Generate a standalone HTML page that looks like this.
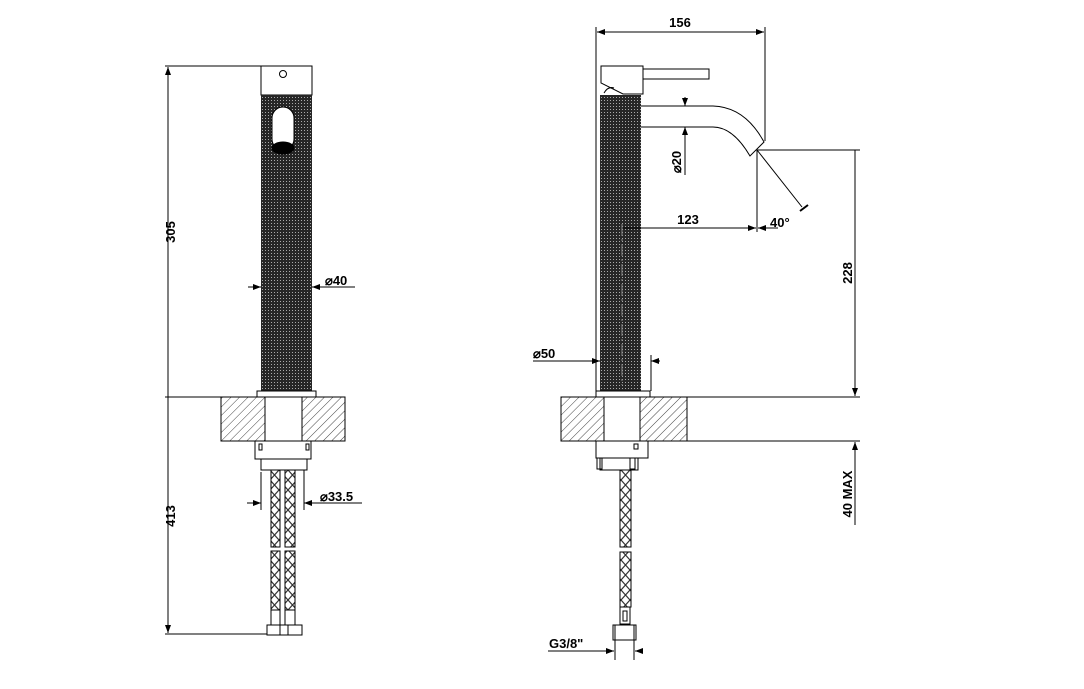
<!DOCTYPE html>
<html><head><meta charset="utf-8"><style>
html,body{margin:0;padding:0;background:#fff;}
svg{display:block}
text{font-family:"Liberation Sans",sans-serif;font-weight:bold;font-size:13px;fill:#000}
</style></head><body>
<svg width="1084" height="689" viewBox="0 0 1084 689" xmlns="http://www.w3.org/2000/svg">
<defs>
<pattern id="knurl" width="3" height="3" patternUnits="userSpaceOnUse">
<rect width="3" height="3" fill="#262626"/><rect x="1" y="1" width="1" height="1" fill="#aaa"/>
</pattern>
<pattern id="hatch" width="6" height="6" patternUnits="userSpaceOnUse" patternTransform="rotate(45)">
<rect width="6" height="6" fill="#fff"/><line x1="0" y1="0" x2="0" y2="6" stroke="#444" stroke-width="1"/>
</pattern>
<pattern id="braid" width="9" height="10" patternUnits="userSpaceOnUse">
<rect width="9" height="10" fill="#fff"/><path d="M0 0 L9 10 M9 0 L0 10" stroke="#333" stroke-width="1.2"/>
</pattern>
<marker id="ar" markerWidth="8" markerHeight="6" refX="8" refY="3" orient="auto" markerUnits="userSpaceOnUse"><path d="M0 0 L8 3 L0 6 z" fill="#000"/></marker>
</defs>
<g stroke="#000" stroke-width="1" fill="none">
<!-- LEFT FIGURE -->
<rect x="261" y="66" width="51" height="29" fill="#fff"/>
<circle cx="283" cy="74" r="3.5"/>
<rect x="261" y="95" width="51" height="296" fill="url(#knurl)" stroke="none"/>
<rect x="272" y="107" width="22" height="43" rx="11" fill="#fff"/>
<ellipse cx="283" cy="148" rx="11" ry="6" fill="#000"/>
<rect x="257" y="391" width="59" height="6" fill="#fff"/>
<rect x="221" y="397" width="124" height="44" fill="url(#hatch)"/>
<rect x="265" y="397" width="37" height="44" fill="#fff"/>
<rect x="255" y="441" width="56" height="18" fill="#fff"/>
<rect x="261" y="459" width="46" height="11" fill="#fff"/>
<rect x="259" y="444" width="3" height="6"/><rect x="306" y="444" width="3" height="6"/>
<rect x="271" y="470" width="9" height="77" fill="url(#braid)"/>
<rect x="285" y="470" width="10" height="77" fill="url(#braid)"/>
<rect x="271" y="551" width="9" height="59" fill="url(#braid)"/>
<rect x="285" y="551" width="10" height="59" fill="url(#braid)"/>
<rect x="271" y="610" width="9" height="15"/><rect x="285" y="610" width="10" height="15"/>
<rect x="267" y="625" width="35" height="10" fill="#fff"/>
<line x1="280" y1="625" x2="280" y2="635"/><line x1="288" y1="625" x2="288" y2="635"/>
<!-- left dims -->
<line x1="165" y1="66" x2="261" y2="66"/>
<line x1="165" y1="397" x2="221" y2="397"/>
<line x1="165" y1="634" x2="267" y2="634"/>
<line x1="168" y1="397" x2="168" y2="67" marker-end="url(#ar)"/>
<line x1="168" y1="397" x2="168" y2="633" marker-end="url(#ar)"/>
<line x1="248" y1="287" x2="261" y2="287" marker-end="url(#ar)"/>
<line x1="355" y1="287" x2="312" y2="287" marker-end="url(#ar)"/>
<line x1="247" y1="503" x2="261" y2="503" marker-end="url(#ar)"/>
<line x1="362" y1="503" x2="304" y2="503" marker-end="url(#ar)"/>
<line x1="261" y1="472" x2="261" y2="510"/><line x1="304" y1="470" x2="304" y2="510"/>
<!-- RIGHT FIGURE -->
<path d="M601 66 H643 V94 H623 L601 83 Z" fill="#fff"/>
<path d="M604 93 Q608 86 614 88"/>
<rect x="643" y="69" width="66" height="10" fill="#fff"/>
<rect x="600" y="95" width="41" height="296" fill="url(#knurl)" stroke="none"/>
<path d="M641 106 H713 Q745 107 764 142 L750 156 Q733 127 713 127 H641" fill="#fff"/>
<rect x="596" y="391" width="54" height="6" fill="#fff"/>
<rect x="561" y="397" width="126" height="44" fill="url(#hatch)"/>
<rect x="604" y="397" width="36" height="44" fill="#fff"/>
<rect x="596" y="441" width="52" height="17" fill="#fff"/>
<rect x="634" y="444" width="4" height="5"/>
<rect x="600" y="458" width="38" height="12" fill="#fff"/>
<rect x="597" y="458" width="5" height="11"/><rect x="630" y="458" width="5" height="11"/>
<rect x="620" y="470" width="11" height="77" fill="url(#braid)"/>
<rect x="620" y="552" width="11" height="55" fill="url(#braid)"/>
<rect x="620" y="607" width="10" height="17"/><rect x="623" y="611" width="4" height="10"/>
<path d="M613 625 H636 V640 H613 Z M615 625 V640 M634 625 V640" fill="#fff"/>
<!-- right dims -->
<line x1="596" y1="27" x2="596" y2="391"/>
<line x1="765" y1="27" x2="765" y2="141"/>
<line x1="680" y1="32" x2="597" y2="32" marker-end="url(#ar)"/>
<line x1="680" y1="32" x2="764" y2="32" marker-end="url(#ar)"/>
<line x1="685" y1="97" x2="685" y2="106" marker-end="url(#ar)"/>
<line x1="685" y1="175" x2="685" y2="127" marker-end="url(#ar)"/>
<line x1="757" y1="150" x2="802" y2="207"/>
<line x1="800" y1="211" x2="808" y2="205" stroke-width="2"/>
<line x1="757" y1="150" x2="757" y2="232"/>
<line x1="622" y1="228" x2="756" y2="228" marker-end="url(#ar)"/>
<line x1="778" y1="228" x2="758" y2="228" marker-end="url(#ar)"/>
<line x1="622" y1="224" x2="622" y2="385" stroke="#888" stroke-dasharray="12 3 2 3"/>
<line x1="757" y1="150" x2="860" y2="150"/>
<line x1="855" y1="150" x2="855" y2="396" marker-end="url(#ar)"/>
<line x1="687" y1="397" x2="860" y2="397"/>
<line x1="687" y1="441" x2="860" y2="441"/>
<line x1="855" y1="525" x2="855" y2="442" marker-end="url(#ar)"/>
<line x1="533" y1="361" x2="600" y2="361" marker-end="url(#ar)"/>
<line x1="660" y1="361" x2="651" y2="361" marker-end="url(#ar)"/>
<line x1="651" y1="355" x2="651" y2="391"/>
<line x1="548" y1="651" x2="614" y2="651" marker-end="url(#ar)"/>
<line x1="642" y1="651" x2="635" y2="651" marker-end="url(#ar)"/>
<line x1="615" y1="640" x2="615" y2="660"/><line x1="634" y1="640" x2="634" y2="660"/>
</g>
<text x="175" y="232" transform="rotate(-90 175 232)" text-anchor="middle">305</text>
<text x="175" y="516" transform="rotate(-90 175 516)" text-anchor="middle">413</text>
<text x="325" y="285">⌀40</text>
<text x="320" y="501">⌀33.5</text>
<text x="680" y="27" text-anchor="middle">156</text>
<text x="681" y="162" transform="rotate(-90 681 162)" text-anchor="middle">⌀20</text>
<text x="688" y="224" text-anchor="middle">123</text>
<text x="770" y="227">40°</text>
<text x="852" y="273" transform="rotate(-90 852 273)" text-anchor="middle">228</text>
<text x="852" y="494" transform="rotate(-90 852 494)" text-anchor="middle">40  MAX</text>
<text x="533" y="358">⌀50</text>
<text x="549" y="648">G3/8"</text>
</svg>
</body></html>
